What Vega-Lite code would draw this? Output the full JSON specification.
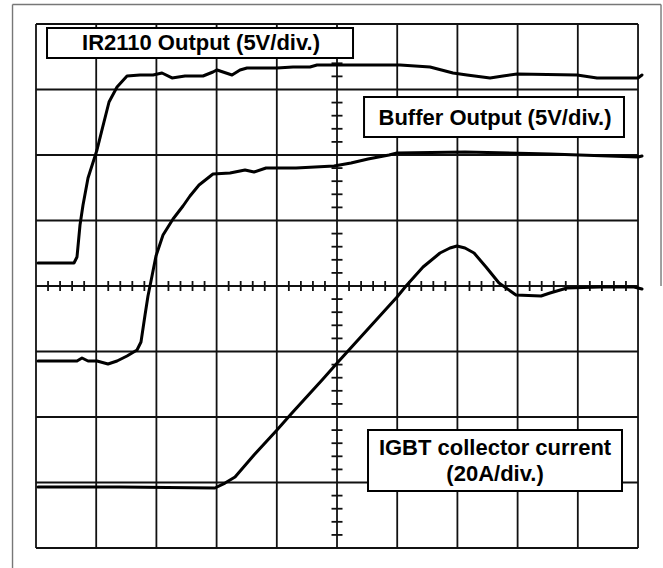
{
  "$schema": "https://vega.github.io/schema/vega-lite/v6.json",
  "width": 663,
  "height": 568,
  "padding": 0,
  "autosize": {"type": "none"},
  "background": "white",
  "config": {"view": {"stroke": null}},
  "datasets": {
    "segments": [
      {"k": "frame", "x": -5.39, "y": 4.298, "x2": 5.382, "y2": 4.298},
      {"k": "frame", "x": -5.39, "y": 4.298, "x2": -5.39, "y2": -4.305},
      {"k": "frame", "x": 5.382, "y": 4.298, "x2": 5.382, "y2": 0.0},
      {"k": "grid", "x": -5, "y": -4, "x2": -5, "y2": 4},
      {"k": "grid", "x": -4, "y": -4, "x2": -4, "y2": 4},
      {"k": "grid", "x": -3, "y": -4, "x2": -3, "y2": 4},
      {"k": "grid", "x": -2, "y": -4, "x2": -2, "y2": 4},
      {"k": "grid", "x": -1, "y": -4, "x2": -1, "y2": 4},
      {"k": "grid", "x": 0, "y": -4, "x2": 0, "y2": 4},
      {"k": "grid", "x": 1, "y": -4, "x2": 1, "y2": 4},
      {"k": "grid", "x": 2, "y": -4, "x2": 2, "y2": 4},
      {"k": "grid", "x": 3, "y": -4, "x2": 3, "y2": 4},
      {"k": "grid", "x": 4, "y": -4, "x2": 4, "y2": 4},
      {"k": "grid", "x": 5, "y": -4, "x2": 5, "y2": 4},
      {"k": "grid", "x": -5, "y": -4, "x2": 5, "y2": -4},
      {"k": "grid", "x": -5, "y": -3, "x2": 5, "y2": -3},
      {"k": "grid", "x": -5, "y": -2, "x2": 5, "y2": -2},
      {"k": "grid", "x": -5, "y": -1, "x2": 5, "y2": -1},
      {"k": "grid", "x": -5, "y": 0, "x2": 5, "y2": 0},
      {"k": "grid", "x": -5, "y": 1, "x2": 5, "y2": 1},
      {"k": "grid", "x": -5, "y": 2, "x2": 5, "y2": 2},
      {"k": "grid", "x": -5, "y": 3, "x2": 5, "y2": 3},
      {"k": "grid", "x": -5, "y": 4, "x2": 5, "y2": 4}
    ],
    "hticks": [
      {"x": -4.8, "y": 0}, {"x": -4.6, "y": 0}, {"x": -4.4, "y": 0}, {"x": -4.2, "y": 0},
      {"x": -3.8, "y": 0}, {"x": -3.6, "y": 0}, {"x": -3.4, "y": 0}, {"x": -3.2, "y": 0},
      {"x": -2.8, "y": 0}, {"x": -2.6, "y": 0}, {"x": -2.4, "y": 0}, {"x": -2.2, "y": 0},
      {"x": -1.8, "y": 0}, {"x": -1.6, "y": 0}, {"x": -1.4, "y": 0}, {"x": -1.2, "y": 0},
      {"x": -0.8, "y": 0}, {"x": -0.6, "y": 0}, {"x": -0.4, "y": 0}, {"x": -0.2, "y": 0},
      {"x": 0.2, "y": 0}, {"x": 0.4, "y": 0}, {"x": 0.6, "y": 0}, {"x": 0.8, "y": 0},
      {"x": 1.2, "y": 0}, {"x": 1.4, "y": 0}, {"x": 1.6, "y": 0}, {"x": 1.8, "y": 0},
      {"x": 2.2, "y": 0}, {"x": 2.4, "y": 0}, {"x": 2.6, "y": 0}, {"x": 2.8, "y": 0},
      {"x": 3.2, "y": 0}, {"x": 3.4, "y": 0}, {"x": 3.6, "y": 0}, {"x": 3.8, "y": 0},
      {"x": 4.2, "y": 0}, {"x": 4.4, "y": 0}, {"x": 4.6, "y": 0}, {"x": 4.8, "y": 0}
    ],
    "vticks": [
      {"x": 0, "y": -3.8}, {"x": 0, "y": -3.6}, {"x": 0, "y": -3.4}, {"x": 0, "y": -3.2},
      {"x": 0, "y": -2.8}, {"x": 0, "y": -2.6}, {"x": 0, "y": -2.4}, {"x": 0, "y": -2.2},
      {"x": 0, "y": -1.8}, {"x": 0, "y": -1.6}, {"x": 0, "y": -1.4}, {"x": 0, "y": -1.2},
      {"x": 0, "y": -0.8}, {"x": 0, "y": -0.6}, {"x": 0, "y": -0.4}, {"x": 0, "y": -0.2},
      {"x": 0, "y": 0.2}, {"x": 0, "y": 0.4}, {"x": 0, "y": 0.6}, {"x": 0, "y": 0.8},
      {"x": 0, "y": 1.2}, {"x": 0, "y": 1.4}, {"x": 0, "y": 1.6}, {"x": 0, "y": 1.8},
      {"x": 0, "y": 2.2}, {"x": 0, "y": 2.4}, {"x": 0, "y": 2.6}, {"x": 0, "y": 2.8},
      {"x": 0, "y": 3.2}, {"x": 0, "y": 3.4}, {"x": 0, "y": 3.6}, {"x": 0, "y": 3.8}
    ],
    "traces": [
      {"s": "IR2110", "x": -4.967, "y": 0.351},
      {"s": "IR2110", "x": -4.369, "y": 0.351},
      {"s": "IR2110", "x": -4.319, "y": 0.443},
      {"s": "IR2110", "x": -4.269, "y": 0.931},
      {"s": "IR2110", "x": -4.219, "y": 1.237},
      {"s": "IR2110", "x": -4.136, "y": 1.649},
      {"s": "IR2110", "x": -3.987, "y": 2.076},
      {"s": "IR2110", "x": -3.904, "y": 2.382},
      {"s": "IR2110", "x": -3.787, "y": 2.809},
      {"s": "IR2110", "x": -3.654, "y": 3.038},
      {"s": "IR2110", "x": -3.488, "y": 3.206},
      {"s": "IR2110", "x": -3.272, "y": 3.221},
      {"s": "IR2110", "x": -3.056, "y": 3.221},
      {"s": "IR2110", "x": -2.907, "y": 3.252},
      {"s": "IR2110", "x": -2.741, "y": 3.176},
      {"s": "IR2110", "x": -2.525, "y": 3.206},
      {"s": "IR2110", "x": -2.226, "y": 3.206},
      {"s": "IR2110", "x": -2.060, "y": 3.267},
      {"s": "IR2110", "x": -1.993, "y": 3.298},
      {"s": "IR2110", "x": -1.744, "y": 3.221},
      {"s": "IR2110", "x": -1.611, "y": 3.298},
      {"s": "IR2110", "x": -1.495, "y": 3.328},
      {"s": "IR2110", "x": -0.997, "y": 3.328},
      {"s": "IR2110", "x": -0.731, "y": 3.344},
      {"s": "IR2110", "x": -0.449, "y": 3.344},
      {"s": "IR2110", "x": -0.332, "y": 3.374},
      {"s": "IR2110", "x": 0.266, "y": 3.374},
      {"s": "IR2110", "x": 1.047, "y": 3.374},
      {"s": "IR2110", "x": 1.545, "y": 3.344},
      {"s": "IR2110", "x": 1.927, "y": 3.252},
      {"s": "IR2110", "x": 2.159, "y": 3.221},
      {"s": "IR2110", "x": 2.542, "y": 3.176},
      {"s": "IR2110", "x": 2.757, "y": 3.206},
      {"s": "IR2110", "x": 2.990, "y": 3.237},
      {"s": "IR2110", "x": 3.987, "y": 3.221},
      {"s": "IR2110", "x": 4.319, "y": 3.176},
      {"s": "IR2110", "x": 5.0, "y": 3.176},
      {"s": "IR2110", "x": 5.066, "y": 3.221},
      {"s": "Buffer", "x": -4.967, "y": -1.145},
      {"s": "Buffer", "x": -4.319, "y": -1.145},
      {"s": "Buffer", "x": -4.236, "y": -1.099},
      {"s": "Buffer", "x": -4.136, "y": -1.145},
      {"s": "Buffer", "x": -3.987, "y": -1.145},
      {"s": "Buffer", "x": -3.804, "y": -1.191},
      {"s": "Buffer", "x": -3.654, "y": -1.145},
      {"s": "Buffer", "x": -3.488, "y": -1.069},
      {"s": "Buffer", "x": -3.322, "y": -0.977},
      {"s": "Buffer", "x": -3.256, "y": -0.855},
      {"s": "Buffer", "x": -3.189, "y": -0.443},
      {"s": "Buffer", "x": -3.140, "y": -0.153},
      {"s": "Buffer", "x": -3.073, "y": 0.153},
      {"s": "Buffer", "x": -3.007, "y": 0.458},
      {"s": "Buffer", "x": -2.890, "y": 0.779},
      {"s": "Buffer", "x": -2.724, "y": 1.023},
      {"s": "Buffer", "x": -2.558, "y": 1.221},
      {"s": "Buffer", "x": -2.442, "y": 1.374},
      {"s": "Buffer", "x": -2.292, "y": 1.542},
      {"s": "Buffer", "x": -2.060, "y": 1.710},
      {"s": "Buffer", "x": -1.777, "y": 1.725},
      {"s": "Buffer", "x": -1.528, "y": 1.771},
      {"s": "Buffer", "x": -1.379, "y": 1.740},
      {"s": "Buffer", "x": -1.179, "y": 1.802},
      {"s": "Buffer", "x": -0.681, "y": 1.802},
      {"s": "Buffer", "x": -0.050, "y": 1.832},
      {"s": "Buffer", "x": 0.233, "y": 1.878},
      {"s": "Buffer", "x": 0.515, "y": 1.939},
      {"s": "Buffer", "x": 0.864, "y": 2.0},
      {"s": "Buffer", "x": 0.997, "y": 2.031},
      {"s": "Buffer", "x": 2.126, "y": 2.046},
      {"s": "Buffer", "x": 3.538, "y": 2.015},
      {"s": "Buffer", "x": 5.0, "y": 1.969},
      {"s": "Buffer", "x": 5.066, "y": 1.985},
      {"s": "IGBT", "x": -4.967, "y": -3.069},
      {"s": "IGBT", "x": -3.605, "y": -3.069},
      {"s": "IGBT", "x": -2.027, "y": -3.084},
      {"s": "IGBT", "x": -1.860, "y": -3.008},
      {"s": "IGBT", "x": -1.694, "y": -2.916},
      {"s": "IGBT", "x": -1.379, "y": -2.580},
      {"s": "IGBT", "x": -0.997, "y": -2.198},
      {"s": "IGBT", "x": -0.748, "y": -1.939},
      {"s": "IGBT", "x": -0.233, "y": -1.420},
      {"s": "IGBT", "x": 0.017, "y": -1.160},
      {"s": "IGBT", "x": 0.997, "y": -0.168},
      {"s": "IGBT", "x": 1.146, "y": 0.0},
      {"s": "IGBT", "x": 1.429, "y": 0.290},
      {"s": "IGBT", "x": 1.711, "y": 0.504},
      {"s": "IGBT", "x": 1.877, "y": 0.580},
      {"s": "IGBT", "x": 1.993, "y": 0.611},
      {"s": "IGBT", "x": 2.126, "y": 0.580},
      {"s": "IGBT", "x": 2.276, "y": 0.504},
      {"s": "IGBT", "x": 2.475, "y": 0.290},
      {"s": "IGBT", "x": 2.691, "y": 0.046},
      {"s": "IGBT", "x": 2.973, "y": -0.137},
      {"s": "IGBT", "x": 3.389, "y": -0.153},
      {"s": "IGBT", "x": 3.538, "y": -0.107},
      {"s": "IGBT", "x": 3.821, "y": -0.031},
      {"s": "IGBT", "x": 4.369, "y": -0.015},
      {"s": "IGBT", "x": 4.934, "y": -0.015},
      {"s": "IGBT", "x": 5.066, "y": -0.046}
    ],
    "boxes": [
      {"x": -4.817, "x2": 0.266, "y": 3.939, "y2": 3.481},
      {"x": 0.449, "x2": 4.767, "y": 2.885, "y2": 2.275},
      {"x": 0.515, "x2": 4.734, "y": -2.198, "y2": -3.130}
    ],
    "labels": [
      {"x": -2.259, "y": 3.710, "t": "IR2110 Output (5V/div.)"},
      {"x": 2.625, "y": 2.565, "t": "Buffer Output (5V/div.)"},
      {"x": 2.625, "y": -2.473, "t": "IGBT collector current"},
      {"x": 2.625, "y": -2.870, "t": "(20A/div.)"}
    ]
  },
  "layer": [
    {
      "data": {"name": "segments"},
      "mark": {"type": "rule"},
      "encoding": {
        "x": {"field": "x", "type": "quantitative", "axis": null, "scale": {"domain": [-5.598, 5.415], "nice": false, "zero": false}},
        "y": {"field": "y", "type": "quantitative", "axis": null, "scale": {"domain": [-4.305, 4.366], "nice": false, "zero": false}},
        "x2": {"field": "x2"},
        "y2": {"field": "y2"},
        "color": {"field": "k", "type": "nominal", "legend": null, "scale": {"domain": ["frame", "grid"], "range": ["#777777", "#111111"]}},
        "strokeWidth": {"field": "k", "type": "nominal", "legend": null, "scale": {"domain": ["frame", "grid"], "range": [1.4, 1.8]}}
      }
    },
    {
      "data": {"name": "hticks"},
      "mark": {"type": "tick", "orient": "vertical", "color": "#111111", "size": 10, "thickness": 1.8, "opacity": 1},
      "encoding": {
        "x": {"field": "x", "type": "quantitative", "axis": null, "scale": {"domain": [-5.598, 5.415], "nice": false, "zero": false}},
        "y": {"field": "y", "type": "quantitative", "axis": null, "scale": {"domain": [-4.305, 4.366], "nice": false, "zero": false}}
      }
    },
    {
      "data": {"name": "vticks"},
      "mark": {"type": "tick", "orient": "horizontal", "color": "#111111", "size": 11, "thickness": 1.8, "opacity": 1},
      "encoding": {
        "x": {"field": "x", "type": "quantitative", "axis": null, "scale": {"domain": [-5.598, 5.415], "nice": false, "zero": false}},
        "y": {"field": "y", "type": "quantitative", "axis": null, "scale": {"domain": [-4.305, 4.366], "nice": false, "zero": false}}
      }
    },
    {
      "data": {"name": "traces"},
      "mark": {"type": "line", "color": "#000000", "strokeWidth": 3, "strokeJoin": "round", "strokeCap": "round"},
      "encoding": {
        "x": {"field": "x", "type": "quantitative", "axis": null, "scale": {"domain": [-5.598, 5.415], "nice": false, "zero": false}},
        "y": {"field": "y", "type": "quantitative", "axis": null, "scale": {"domain": [-4.305, 4.366], "nice": false, "zero": false}},
        "detail": {"field": "s"}
      }
    },
    {
      "data": {"name": "boxes"},
      "mark": {"type": "rect", "fill": "white", "stroke": "#000000", "strokeWidth": 2},
      "encoding": {
        "x": {"field": "x", "type": "quantitative", "axis": null, "scale": {"domain": [-5.598, 5.415], "nice": false, "zero": false}},
        "y": {"field": "y", "type": "quantitative", "axis": null, "scale": {"domain": [-4.305, 4.366], "nice": false, "zero": false}},
        "x2": {"field": "x2"},
        "y2": {"field": "y2"}
      }
    },
    {
      "data": {"name": "labels"},
      "mark": {"type": "text", "font": "Liberation Sans", "fontWeight": "bold", "fontSize": 22, "color": "#000000", "align": "center", "baseline": "middle"},
      "encoding": {
        "x": {"field": "x", "type": "quantitative", "axis": null, "scale": {"domain": [-5.598, 5.415], "nice": false, "zero": false}},
        "y": {"field": "y", "type": "quantitative", "axis": null, "scale": {"domain": [-4.305, 4.366], "nice": false, "zero": false}},
        "text": {"field": "t"}
      }
    }
  ]
}
